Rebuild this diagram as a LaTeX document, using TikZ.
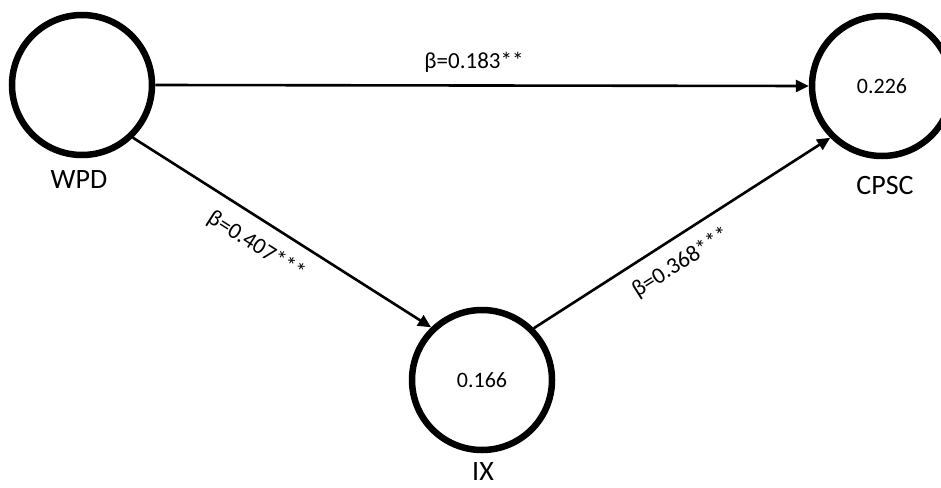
\documentclass[tikz,border=0pt]{standalone}
\usepackage{fontspec}
\setmainfont{Carlito}
\usetikzlibrary{arrows.meta}
\begin{document}
\begin{tikzpicture}[x=1pt,y=-1pt,
  latent/.style={circle,draw=black,line width=6.5pt,minimum size=140pt,inner sep=0pt,font=\fontsize{22}{25}\selectfont},
  varname/.style={font=\fontsize{28}{31}\selectfont,inner sep=0pt},
  path/.style={line width=2.6pt,-{Triangle[length=13pt,width=12pt]}},
  coef/.style={font=\fontsize{23}{26}\selectfont,inner sep=0pt}]
\useasboundingbox (0,0) rectangle (941,487);
\fill[white] (0,0) rectangle (941,487);

% latent constructs
\node[latent] (wpd)  at (82,85)  {};
\node[latent] (cpsc) at (882,86) {0.226};
\node[latent] (ix)   at (482,380) {0.166};

% construct names
\node[varname] (wpdname)  at (79,180)  {WPD};
\node[varname] (cpscname) at (885,186) {CPSC};
\node[varname] (ixname)   at (483,472) {IX};

% structural paths
\draw[path] (wpd.east) -- (cpsc.west);
\draw[path] (wpd.-46) -- (ix.134);
\draw[path] (ix.45) -- (cpsc.225);

% path coefficients
\node[coef] (b1) at (474,62) {β=0.183**};
\node[coef,rotate=-32.5] (b2) at (256,246) {β=0.407***};
\node[coef,rotate=32.3] (b3) at (681,263) {β=0.368***};
\end{tikzpicture}
\end{document}
